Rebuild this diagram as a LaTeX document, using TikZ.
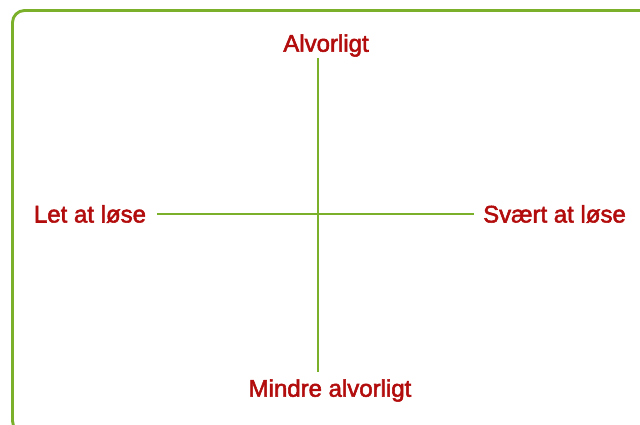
\documentclass[tikz,border=0pt]{standalone}
\usepackage{fontspec}
\setmainfont{Liberation Sans}
\newfontfamily\lblfont[FakeBold=2.2]{Liberation Sans}
\definecolor{framegreen}{RGB}{122,176,42}
\definecolor{labelred}{RGB}{178,12,12}
\tikzset{
  lbl/.style={text=labelred, font=\lblfont\fontsize{24}{28}\selectfont, inner sep=0pt, anchor=base},
  axis/.style={draw=framegreen, line width=1.9pt},
  frame/.style={draw=framegreen, line width=2.9pt, rounded corners=12pt}
}
\begin{document}
\begin{tikzpicture}[x=1pt,y=-1pt]
\useasboundingbox (0,0) rectangle (640,425);
\begin{scope}
\clip (0,0) rectangle (640,425);
\draw[frame] (12.5,10.5) rectangle (680,433);
\end{scope}
\node[lbl] (top) at (326,51.7) {Alvorligt};
\node[lbl] (bot) at (330,396.7) {Mindre alvorligt};
\node[lbl] (left) at (90,222.5) {Let at løse};
\node[lbl] (right) at (554.5,222.5) {Svært at løse};
\coordinate (vt) at (318.3,58);
\coordinate (vb) at (318.3,372);
\coordinate (hl) at (157,214.3);
\coordinate (hr) at (474,214.3);
\draw[axis] (vt) -- (vb);
\draw[axis] (hl) -- (hr);
\end{tikzpicture}
\end{document}
